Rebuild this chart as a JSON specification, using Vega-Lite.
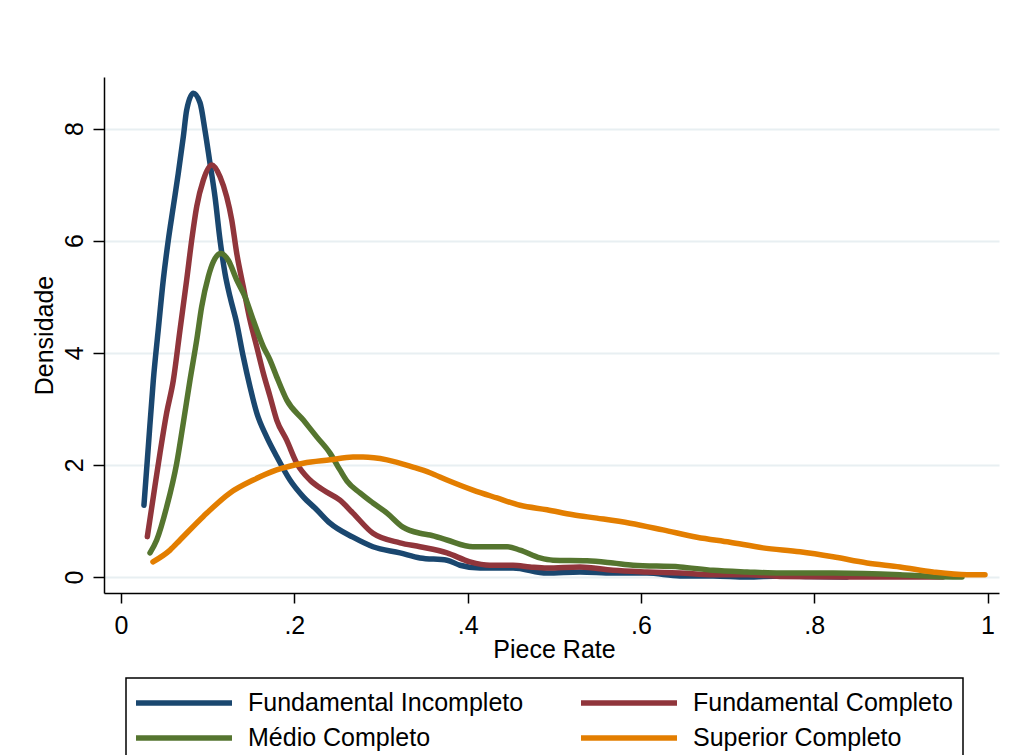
{
  "$schema": "https://vega.github.io/schema/vega-lite/v6.json",
  "width": 895,
  "height": 516,
  "autosize": {"type": "none"},
  "padding": {"left": 104, "top": 77, "right": 21, "bottom": 162},
  "background": "white",
  "config": {
    "view": {"stroke": null},
    "font": "Liberation Sans",
    "axis": {
      "labelFont": "Liberation Sans",
      "titleFont": "Liberation Sans",
      "labelFontSize": 25,
      "titleFontSize": 25,
      "titleFontWeight": "normal",
      "labelColor": "#000",
      "titleColor": "#000",
      "domainColor": "#000",
      "domainWidth": 1.5,
      "tickColor": "#000",
      "tickWidth": 1.5,
      "gridColor": "#e8eff2",
      "gridWidth": 2
    },
    "legend": {
      "orient": "none",
      "legendX": 22,
      "legendY": 601,
      "columns": 2,
      "direction": "horizontal",
      "symbolType": "M-4,0H4",
      "symbolSize": 576,
      "symbolStrokeWidth": 5.5,
      "symbolOffset": 33,
      "labelFont": "Liberation Sans",
      "labelFontSize": 25,
      "labelColor": "#000",
      "labelOffset": 49,
      "labelLimit": 400,
      "columnPadding": 46,
      "rowPadding": 7,
      "strokeColor": "#000",
      "strokeWidth": 1.5,
      "padding": 10,
      "fillColor": "white"
    }
  },
  "data": {
    "values": [
      {"series": "Fundamental Incompleto", "x": 0.0265, "y": 1.28},
      {"series": "Fundamental Incompleto", "x": 0.0315, "y": 2.32},
      {"series": "Fundamental Incompleto", "x": 0.0373, "y": 3.51},
      {"series": "Fundamental Incompleto", "x": 0.0430, "y": 4.41},
      {"series": "Fundamental Incompleto", "x": 0.0488, "y": 5.30},
      {"series": "Fundamental Incompleto", "x": 0.0546, "y": 6.01},
      {"series": "Fundamental Incompleto", "x": 0.0604, "y": 6.61},
      {"series": "Fundamental Incompleto", "x": 0.0661, "y": 7.20},
      {"series": "Fundamental Incompleto", "x": 0.0719, "y": 7.85},
      {"series": "Fundamental Incompleto", "x": 0.0758, "y": 8.33},
      {"series": "Fundamental Incompleto", "x": 0.0834, "y": 8.63},
      {"series": "Fundamental Incompleto", "x": 0.0912, "y": 8.46},
      {"series": "Fundamental Incompleto", "x": 0.0969, "y": 7.97},
      {"series": "Fundamental Incompleto", "x": 0.1027, "y": 7.38},
      {"series": "Fundamental Incompleto", "x": 0.1085, "y": 6.78},
      {"series": "Fundamental Incompleto", "x": 0.1143, "y": 6.01},
      {"series": "Fundamental Incompleto", "x": 0.1200, "y": 5.42},
      {"series": "Fundamental Incompleto", "x": 0.1258, "y": 5.00},
      {"series": "Fundamental Incompleto", "x": 0.1335, "y": 4.53},
      {"series": "Fundamental Incompleto", "x": 0.1411, "y": 3.93},
      {"series": "Fundamental Incompleto", "x": 0.1489, "y": 3.39},
      {"series": "Fundamental Incompleto", "x": 0.1566, "y": 2.93},
      {"series": "Fundamental Incompleto", "x": 0.1681, "y": 2.50},
      {"series": "Fundamental Incompleto", "x": 0.1797, "y": 2.15},
      {"series": "Fundamental Incompleto", "x": 0.1950, "y": 1.73},
      {"series": "Fundamental Incompleto", "x": 0.2104, "y": 1.43},
      {"series": "Fundamental Incompleto", "x": 0.2259, "y": 1.20},
      {"series": "Fundamental Incompleto", "x": 0.2412, "y": 0.96},
      {"series": "Fundamental Incompleto", "x": 0.2677, "y": 0.71},
      {"series": "Fundamental Incompleto", "x": 0.2908, "y": 0.54},
      {"series": "Fundamental Incompleto", "x": 0.3220, "y": 0.43},
      {"series": "Fundamental Incompleto", "x": 0.3451, "y": 0.34},
      {"series": "Fundamental Incompleto", "x": 0.3762, "y": 0.30},
      {"series": "Fundamental Incompleto", "x": 0.3912, "y": 0.21},
      {"series": "Fundamental Incompleto", "x": 0.4143, "y": 0.16},
      {"series": "Fundamental Incompleto", "x": 0.4524, "y": 0.16},
      {"series": "Fundamental Incompleto", "x": 0.4916, "y": 0.07},
      {"series": "Fundamental Incompleto", "x": 0.5297, "y": 0.09},
      {"series": "Fundamental Incompleto", "x": 0.5678, "y": 0.07},
      {"series": "Fundamental Incompleto", "x": 0.6070, "y": 0.07},
      {"series": "Fundamental Incompleto", "x": 0.6451, "y": 0.02},
      {"series": "Fundamental Incompleto", "x": 0.6832, "y": 0.02},
      {"series": "Fundamental Incompleto", "x": 0.7224, "y": 0.00},
      {"series": "Fundamental Incompleto", "x": 0.7605, "y": 0.02},
      {"series": "Fundamental Incompleto", "x": 0.7951, "y": 0.01},
      {"series": "Fundamental Incompleto", "x": 0.8378, "y": 0.00},

      {"series": "Fundamental Completo", "x": 0.0304, "y": 0.72},
      {"series": "Fundamental Completo", "x": 0.0373, "y": 1.43},
      {"series": "Fundamental Completo", "x": 0.0450, "y": 2.21},
      {"series": "Fundamental Completo", "x": 0.0527, "y": 2.93},
      {"series": "Fundamental Completo", "x": 0.0604, "y": 3.51},
      {"series": "Fundamental Completo", "x": 0.0681, "y": 4.41},
      {"series": "Fundamental Completo", "x": 0.0758, "y": 5.30},
      {"series": "Fundamental Completo", "x": 0.0816, "y": 6.01},
      {"series": "Fundamental Completo", "x": 0.0874, "y": 6.61},
      {"series": "Fundamental Completo", "x": 0.0950, "y": 7.08},
      {"series": "Fundamental Completo", "x": 0.1047, "y": 7.35},
      {"series": "Fundamental Completo", "x": 0.1143, "y": 7.14},
      {"series": "Fundamental Completo", "x": 0.1220, "y": 6.78},
      {"series": "Fundamental Completo", "x": 0.1278, "y": 6.37},
      {"series": "Fundamental Completo", "x": 0.1335, "y": 5.78},
      {"series": "Fundamental Completo", "x": 0.1411, "y": 5.18},
      {"series": "Fundamental Completo", "x": 0.1489, "y": 4.58},
      {"series": "Fundamental Completo", "x": 0.1566, "y": 4.11},
      {"series": "Fundamental Completo", "x": 0.1642, "y": 3.64},
      {"series": "Fundamental Completo", "x": 0.1720, "y": 3.22},
      {"series": "Fundamental Completo", "x": 0.1797, "y": 2.80},
      {"series": "Fundamental Completo", "x": 0.1912, "y": 2.44},
      {"series": "Fundamental Completo", "x": 0.2028, "y": 2.03},
      {"series": "Fundamental Completo", "x": 0.2181, "y": 1.73},
      {"series": "Fundamental Completo", "x": 0.2335, "y": 1.55},
      {"series": "Fundamental Completo", "x": 0.2527, "y": 1.37},
      {"series": "Fundamental Completo", "x": 0.2677, "y": 1.14},
      {"series": "Fundamental Completo", "x": 0.2908, "y": 0.78},
      {"series": "Fundamental Completo", "x": 0.3220, "y": 0.61},
      {"series": "Fundamental Completo", "x": 0.3451, "y": 0.54},
      {"series": "Fundamental Completo", "x": 0.3762, "y": 0.43},
      {"series": "Fundamental Completo", "x": 0.4028, "y": 0.27},
      {"series": "Fundamental Completo", "x": 0.4258, "y": 0.21},
      {"series": "Fundamental Completo", "x": 0.4524, "y": 0.21},
      {"series": "Fundamental Completo", "x": 0.4720, "y": 0.18},
      {"series": "Fundamental Completo", "x": 0.4916, "y": 0.16},
      {"series": "Fundamental Completo", "x": 0.5297, "y": 0.18},
      {"series": "Fundamental Completo", "x": 0.5678, "y": 0.12},
      {"series": "Fundamental Completo", "x": 0.6070, "y": 0.09},
      {"series": "Fundamental Completo", "x": 0.6451, "y": 0.07},
      {"series": "Fundamental Completo", "x": 0.6832, "y": 0.04},
      {"series": "Fundamental Completo", "x": 0.7224, "y": 0.04},
      {"series": "Fundamental Completo", "x": 0.7605, "y": 0.01},
      {"series": "Fundamental Completo", "x": 0.8332, "y": 0.00},
      {"series": "Fundamental Completo", "x": 0.9486, "y": 0.00},

      {"series": "Médio Completo", "x": 0.0335, "y": 0.43},
      {"series": "Médio Completo", "x": 0.0412, "y": 0.66},
      {"series": "Médio Completo", "x": 0.0527, "y": 1.25},
      {"series": "Médio Completo", "x": 0.0643, "y": 2.03},
      {"series": "Médio Completo", "x": 0.0719, "y": 2.75},
      {"series": "Médio Completo", "x": 0.0796, "y": 3.51},
      {"series": "Médio Completo", "x": 0.0874, "y": 4.23},
      {"series": "Médio Completo", "x": 0.0931, "y": 4.82},
      {"series": "Médio Completo", "x": 0.1008, "y": 5.36},
      {"series": "Médio Completo", "x": 0.1065, "y": 5.62},
      {"series": "Médio Completo", "x": 0.1151, "y": 5.77},
      {"series": "Médio Completo", "x": 0.1238, "y": 5.65},
      {"series": "Médio Completo", "x": 0.1335, "y": 5.30},
      {"series": "Médio Completo", "x": 0.1431, "y": 5.00},
      {"series": "Médio Completo", "x": 0.1527, "y": 4.58},
      {"series": "Médio Completo", "x": 0.1642, "y": 4.11},
      {"series": "Médio Completo", "x": 0.1720, "y": 3.87},
      {"series": "Médio Completo", "x": 0.1797, "y": 3.57},
      {"series": "Médio Completo", "x": 0.1912, "y": 3.16},
      {"series": "Médio Completo", "x": 0.2104, "y": 2.80},
      {"series": "Médio Completo", "x": 0.2259, "y": 2.50},
      {"series": "Médio Completo", "x": 0.2412, "y": 2.21},
      {"series": "Médio Completo", "x": 0.2527, "y": 1.91},
      {"series": "Médio Completo", "x": 0.2608, "y": 1.71},
      {"series": "Médio Completo", "x": 0.2758, "y": 1.50},
      {"series": "Médio Completo", "x": 0.2908, "y": 1.32},
      {"series": "Médio Completo", "x": 0.3070, "y": 1.14},
      {"series": "Médio Completo", "x": 0.3254, "y": 0.89},
      {"series": "Médio Completo", "x": 0.3451, "y": 0.78},
      {"series": "Médio Completo", "x": 0.3566, "y": 0.75},
      {"series": "Médio Completo", "x": 0.3762, "y": 0.66},
      {"series": "Médio Completo", "x": 0.4062, "y": 0.54},
      {"series": "Médio Completo", "x": 0.4455, "y": 0.54},
      {"series": "Médio Completo", "x": 0.4605, "y": 0.48},
      {"series": "Médio Completo", "x": 0.4836, "y": 0.34},
      {"series": "Médio Completo", "x": 0.4986, "y": 0.30},
      {"series": "Médio Completo", "x": 0.5378, "y": 0.29},
      {"series": "Médio Completo", "x": 0.5678, "y": 0.25},
      {"series": "Médio Completo", "x": 0.5909, "y": 0.21},
      {"series": "Médio Completo", "x": 0.6451, "y": 0.18},
      {"series": "Médio Completo", "x": 0.6832, "y": 0.12},
      {"series": "Médio Completo", "x": 0.7224, "y": 0.09},
      {"series": "Médio Completo", "x": 0.7605, "y": 0.07},
      {"series": "Médio Completo", "x": 0.8217, "y": 0.07},
      {"series": "Médio Completo", "x": 0.8990, "y": 0.04},
      {"series": "Médio Completo", "x": 0.9371, "y": 0.01},
      {"series": "Médio Completo", "x": 0.9706, "y": 0.00},

      {"series": "Superior Completo", "x": 0.0369, "y": 0.27},
      {"series": "Superior Completo", "x": 0.0566, "y": 0.48},
      {"series": "Superior Completo", "x": 0.0681, "y": 0.66},
      {"series": "Superior Completo", "x": 0.0950, "y": 1.08},
      {"series": "Superior Completo", "x": 0.1258, "y": 1.50},
      {"series": "Superior Completo", "x": 0.1527, "y": 1.73},
      {"series": "Superior Completo", "x": 0.1797, "y": 1.91},
      {"series": "Superior Completo", "x": 0.2104, "y": 2.03},
      {"series": "Superior Completo", "x": 0.2412, "y": 2.09},
      {"series": "Superior Completo", "x": 0.2677, "y": 2.14},
      {"series": "Superior Completo", "x": 0.2793, "y": 2.14},
      {"series": "Superior Completo", "x": 0.3070, "y": 2.09},
      {"series": "Superior Completo", "x": 0.3370, "y": 1.96},
      {"series": "Superior Completo", "x": 0.3566, "y": 1.86},
      {"series": "Superior Completo", "x": 0.3762, "y": 1.73},
      {"series": "Superior Completo", "x": 0.4062, "y": 1.55},
      {"series": "Superior Completo", "x": 0.4339, "y": 1.41},
      {"series": "Superior Completo", "x": 0.4605, "y": 1.28},
      {"series": "Superior Completo", "x": 0.4916, "y": 1.20},
      {"series": "Superior Completo", "x": 0.5216, "y": 1.11},
      {"series": "Superior Completo", "x": 0.5493, "y": 1.05},
      {"series": "Superior Completo", "x": 0.5874, "y": 0.96},
      {"series": "Superior Completo", "x": 0.6255, "y": 0.84},
      {"series": "Superior Completo", "x": 0.6647, "y": 0.71},
      {"series": "Superior Completo", "x": 0.7028, "y": 0.62},
      {"series": "Superior Completo", "x": 0.7409, "y": 0.52},
      {"series": "Superior Completo", "x": 0.7836, "y": 0.45},
      {"series": "Superior Completo", "x": 0.8217, "y": 0.36},
      {"series": "Superior Completo", "x": 0.8609, "y": 0.25},
      {"series": "Superior Completo", "x": 0.8990, "y": 0.18},
      {"series": "Superior Completo", "x": 0.9371, "y": 0.09},
      {"series": "Superior Completo", "x": 0.9763, "y": 0.04},
      {"series": "Superior Completo", "x": 0.9971, "y": 0.04}
    ]
  },
  "mark": {"type": "line", "strokeWidth": 5.5, "strokeCap": "round", "strokeJoin": "round", "interpolate": "monotone", "clip": false},
  "encoding": {
    "x": {
      "field": "x",
      "type": "quantitative",
      "scale": {"domain": [-0.01962, 1.01327], "nice": false, "zero": false},
      "axis": {
        "title": "Piece Rate",
        "values": [0, 0.2, 0.4, 0.6, 0.8, 1],
        "labelExpr": "datum.value == 0 ? '0' : datum.value == 1 ? '1' : '.' + format(datum.value * 10, 'd')",
        "grid": false,
        "tickSize": 10,
        "labelPadding": 30,
        "labelBaseline": "alphabetic",
        "labelFlush": false,
        "labelOverlap": false,
        "titleX": 450,
        "titleY": 64,
        "titleBaseline": "alphabetic",
        "titleAlign": "center"
      }
    },
    "y": {
      "field": "y",
      "type": "quantitative",
      "scale": {"domain": [-0.2854, 8.919], "nice": false, "zero": false},
      "axis": {
        "title": "Densidade",
        "values": [0, 2, 4, 6, 8],
        "format": "d",
        "grid": true,
        "tickSize": 11,
        "labelPadding": 11,
        "labelAngle": -90,
        "labelAlign": "center",
        "labelBaseline": "alphabetic",
        "labelFlush": false,
        "labelOverlap": false,
        "titleAngle": -90,
        "titleX": -52,
        "titleY": 258,
        "titleBaseline": "alphabetic",
        "titleAlign": "center"
      }
    },
    "color": {
      "field": "series",
      "type": "nominal",
      "sort": null,
      "scale": {
        "domain": ["Fundamental Incompleto", "Fundamental Completo", "Médio Completo", "Superior Completo"],
        "range": ["#1a476f", "#90353b", "#55752f", "#e37e00"]
      },
      "legend": {"title": null}
    }
  }
}
